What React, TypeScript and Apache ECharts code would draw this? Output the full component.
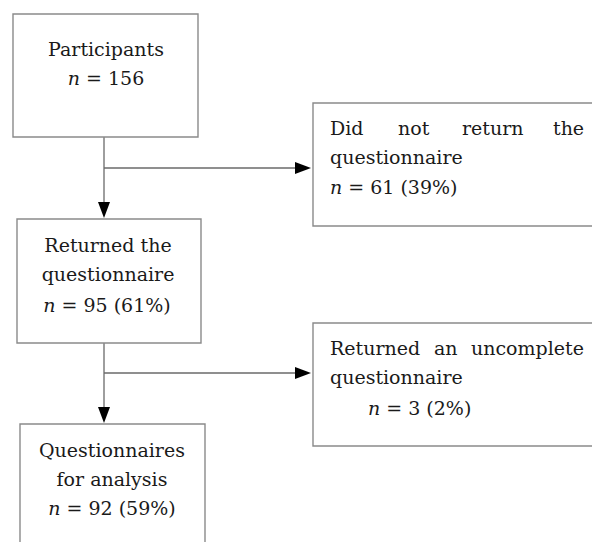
import React, { useEffect, useRef } from "react";
import * as echarts from "echarts";

// Flow data
const stageLabels: string[][] = [
  ["Participants"],
  ["Did not return the", "questionnaire"],
  ["Returned the", "questionnaire"],
  ["Returned an uncomplete", "questionnaire"],
  ["Questionnaires", "for analysis"],
];
const stageCounts: number[] = [156, 61, 95, 3, 92];
const stagePercents: (number | null)[] = [null, 39, 61, 2, 59];

const FONT = "'DejaVu Serif', serif";
const FS = 19;
const TEXT_COLOR = "#1a1a1a";
const BOX_COLOR = "#8a8a8a";
const LINE_COLOR = "#6a6a6a";

function nLine(i: number): string {
  const p = stagePercents[i];
  return `{i|n} = ${stageCounts[i]}` + (p === null ? "" : ` (${p}%)`);
}

function textEl(text: string, x: number, y: number, align: string): any {
  return {
    type: "text",
    style: {
      text,
      x,
      y,
      align,
      verticalAlign: "middle",
      fontFamily: FONT,
      fontSize: FS,
      fill: TEXT_COLOR,
      rich: {
        i: { fontStyle: "italic", fontFamily: FONT, fontSize: FS, fill: TEXT_COLOR },
      },
    },
  };
}

function justified(words: string[], xs: number[], y: number): any[] {
  return words.map((w, k) => textEl(w, xs[k], y, "left"));
}

function box(x: number, y: number, w: number, h: number): any {
  return {
    type: "rect",
    shape: { x, y, width: w, height: h },
    style: { fill: "#fff", stroke: BOX_COLOR, lineWidth: 1.4 },
  };
}

function line(x1: number, y1: number, x2: number, y2: number): any {
  return {
    type: "line",
    shape: { x1, y1, x2, y2 },
    style: { stroke: LINE_COLOR, lineWidth: 1.3 },
  };
}

function arrowDown(x: number, tip: number): any {
  return {
    type: "polygon",
    shape: { points: [[x - 6, tip - 16], [x + 6, tip - 16], [x, tip]] },
    style: { fill: "#000" },
  };
}

function arrowRight(tip: number, y: number): any {
  return {
    type: "polygon",
    shape: { points: [[tip - 16, y - 6], [tip - 16, y + 6], [tip, y]] },
    style: { fill: "#000" },
  };
}

export default function App() {
  const ref = useRef<HTMLDivElement>(null);
  useEffect(() => {
    if (!ref.current) return;
    const chart = echarts.init(ref.current, null, { renderer: "svg" });
    const els: any[] = [];

    // connectors
    els.push(line(104, 137, 104, 204));
    els.push(arrowDown(104, 218));
    els.push(line(104, 168, 298, 168));
    els.push(arrowRight(311, 168));
    els.push(line(104, 343, 104, 410));
    els.push(arrowDown(104, 423));
    els.push(line(104, 373, 298, 373));
    els.push(arrowRight(311, 373));

    // boxes
    els.push(box(13, 14, 185, 123));
    els.push(box(313, 103, 290, 123));
    els.push(box(17, 219, 184, 124));
    els.push(box(313, 323, 290, 123));
    els.push(box(20, 424, 185, 130));

    // Box 0: Participants
    els.push(textEl(stageLabels[0][0], 106, 49, "center"));
    els.push(textEl(nLine(0), 106, 78, "center"));

    // Box 1: Did not return (justified first line)
    els.push(...justified(stageLabels[1][0].split(" "), [330, 398, 462, 553], 128));
    els.push(textEl(stageLabels[1][1], 330, 157, "left"));
    els.push(textEl(nLine(1), 330, 187, "left"));

    // Box 2: Returned the questionnaire
    els.push(textEl(stageLabels[2][0], 108, 245, "center"));
    els.push(textEl(stageLabels[2][1], 108, 274, "center"));
    els.push(textEl(nLine(2), 107, 305, "center"));

    // Box 3: Returned an uncomplete
    els.push(...justified(stageLabels[3][0].split(" "), [330, 434, 471], 348));
    els.push(textEl(stageLabels[3][1], 330, 377, "left"));
    els.push(textEl(nLine(3), 368, 408, "left"));

    // Box 4: Questionnaires for analysis
    els.push(textEl(stageLabels[4][0], 112, 450, "center"));
    els.push(textEl(stageLabels[4][1], 112, 479, "center"));
    els.push(textEl(nLine(4), 112, 508, "center"));

    chart.setOption({
      animation: false,
      backgroundColor: "#fff",
      graphic: { elements: els },
    });
    return () => chart.dispose();
  }, []);
  return (
    <div
      ref={ref}
      style={{ width: 592, height: 542, position: "absolute", left: 0, top: 0 }}
    />
  );
}
